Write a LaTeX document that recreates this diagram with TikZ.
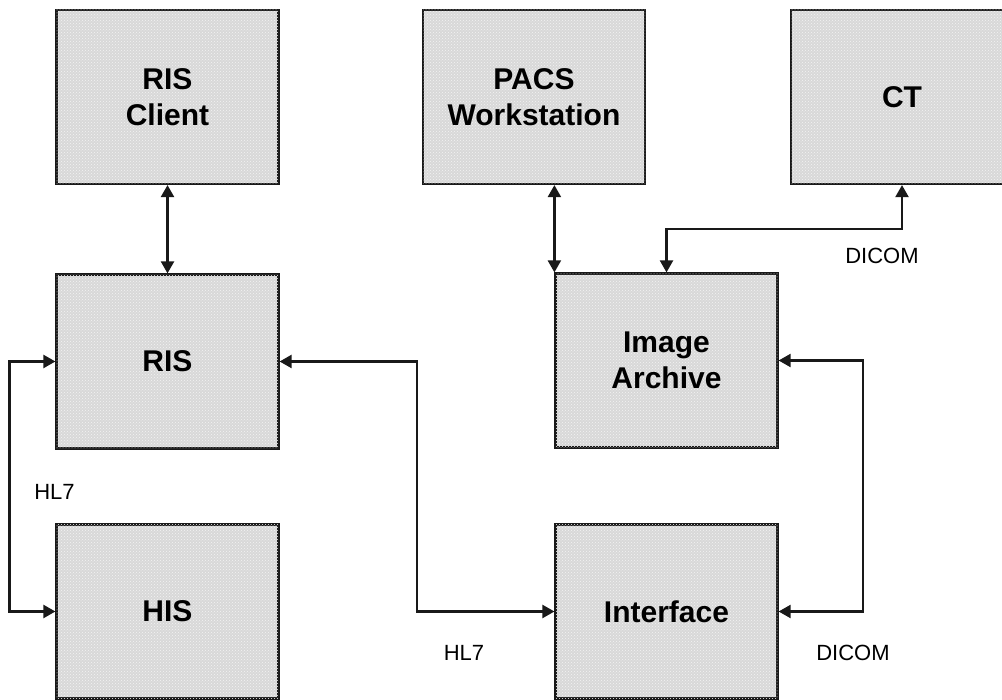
\documentclass[tikz,border=0pt]{standalone}
\usepackage{fontspec}
\setmainfont{Liberation Sans}
\usetikzlibrary{positioning, arrows.meta, calc, patterns}
\definecolor{BoxColor}{RGB}{216,216,216}
\definecolor{LineColor}{RGB}{25,25,25}
\tikzstyle{system} = [rectangle, draw=LineColor, line width=2.2pt, fill=BoxColor, minimum width=222pt, minimum height=174pt, inner sep=0pt, align=center, font=\fontsize{30}{36}\selectfont\bfseries, postaction={pattern=crosshatch dots, pattern color=white!70!BoxColor}]
\tikzstyle{link} = [line width=2.2pt, LineColor, {Triangle[length=12pt,width=13pt]}-{Triangle[length=12pt,width=13pt]}]
\tikzstyle{proto} = [font=\fontsize{22}{24}\selectfont, inner sep=0pt]

\begin{document}
\begin{tikzpicture}[x=1pt, y=-1pt]
                \clip (0,0) rectangle (1002,700);
                \fill[white] (0,0) rectangle (1002,700);

                % Systems
                \node[system] (risclient) at (167.5,97) {RIS\\Client};
                \node[system] (pacs) at (534,97) {PACS\\Workstation};
                \node[system] (ct) at (902,97) {CT};
                \node[system] (ris) at (167.5,361.5) {RIS};
                \node[system] (archive) at (666.5,360.5) {Image\\Archive};
                \node[system] (his) at (167.5,611.5) {HIS};
                \node[system] (interface) at (666.5,611.5) {Interface};

                % Links
                \draw[link] (risclient.south) -- (ris.north);
                \draw[link] (pacs.south -| archive.west) -- (archive.north west);
                \draw[link] (ct.south) -- ++(0,44) -| (archive.north);
                \draw[link] (ris.west) -- ++(-46,0) |- (his.west);
                \draw[link] (ris.east) -- ++(137,0) |- (interface.west);
                \draw[link] (archive.east) -- ++(84,0) |- (interface.east);

                % Protocols
                \node[proto] (hlseven) at (54.5,492) {HL7};
                \node[proto] (hlsevenb) at (464,653) {HL7};
                \node[proto] (dicomct) at (882,255.5) {DICOM};
                \node[proto] (dicomif) at (853,653) {DICOM};
\end{tikzpicture}
\end{document}
